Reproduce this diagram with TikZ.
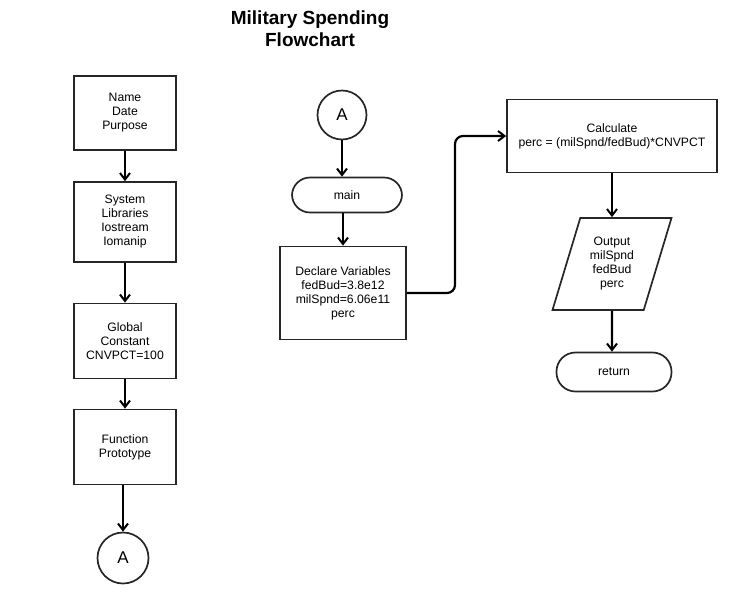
\documentclass[tikz,border=0pt]{standalone}
\usepackage{fontspec}
\setmainfont{Liberation Sans}
\usetikzlibrary{arrows.meta,shapes.geometric}
\begin{document}
\begin{tikzpicture}[x=1pt, y=-1pt,
    every node/.style={font=\fontsize{12.2}{14}\selectfont, align=center, inner sep=0pt},
    procbox/.style={draw=black!85, line width=1.7pt, rectangle},
    termbox/.style={draw=black!85, line width=1.7pt, rectangle, rounded corners=18pt},
    connector/.style={draw=black!85, line width=1.7pt, circle, minimum size=51pt, font=\fontsize{17}{19}\selectfont},
    iobox/.style={draw=black!85, line width=1.7pt, trapezium, trapezium left angle=70, trapezium right angle=110, trapezium stretches=true},
    flow/.style={line width=2.2pt, -{Straight Barb[length=6.5pt, width=10pt, line width=2pt]}}]
    \useasboundingbox (0,0) rectangle (740,603);
    % title
    \node[font=\bfseries\fontsize{19}{22}\selectfont] (title) at (310, 29) {Military Spending\\Flowchart};
    % left column
    \node[procbox, minimum width=102pt, minimum height=74pt] (name) at (125, 113) {Name\\Date\\Purpose};
    \node[procbox, minimum width=102pt, minimum height=80pt] (sys) at (125, 222) {System\\Libraries\\Iostream\\Iomanip};
    \node[procbox, minimum width=102pt, minimum height=75pt] (glob) at (125, 341) {Global\\Constant\\CNVPCT=100};
    \node[procbox, minimum width=102pt, minimum height=75pt] (func) at (125, 447) {Function\\Prototype};
    \node[connector] (endA) at (123, 558) {A};
    \draw[flow] (name) -- (sys);
    \draw[flow] (sys) -- (glob);
    \draw[flow] (glob) -- (func);
    \draw[flow] (func.south -| endA) -- (endA);
    % middle column
    \node[connector, minimum size=49pt] (startA) at (342, 115) {A};
    \node[termbox, minimum width=110pt, minimum height=35pt] (main) at (347, 195) {main};
    \node[procbox, minimum width=126pt, minimum height=93pt] (decl) at (343, 293) {Declare Variables\\fedBud=3.8e12\\milSpnd=6.06e11\\perc};
    \draw[flow] (startA) -- (startA |- main.north);
    \draw[flow] (main.south -| decl) -- (decl);
    % right column
    \node[procbox, minimum width=210pt, minimum height=73pt] (calc) at (612, 136) {Calculate\\perc = (milSpnd/fedBud)*CNVPCT};
    \node[iobox, minimum width=120pt, minimum height=92pt] (out) at (612, 264) {Output\\milSpnd\\fedBud\\perc};
    \node[termbox, minimum width=115pt, minimum height=39pt, rounded corners=19pt] (ret) at (614, 372) {return};
    \coordinate (bend) at (455, 0);
    \draw[flow, rounded corners=8pt] (decl.east) -- (decl.east -| bend) |- (calc.west);
    \draw[flow] (calc) -- (out);
    \draw[flow] (out) -- (out |- ret.north);
\end{tikzpicture}
\end{document}
